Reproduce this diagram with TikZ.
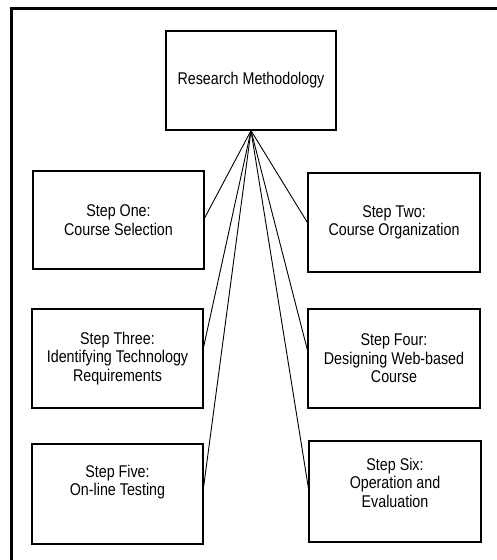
\documentclass[tikz,border=0pt]{standalone}
\usepackage{fontspec}
\setmainfont[FakeStretch=0.84]{Liberation Sans}
\begin{document}
\begin{tikzpicture}[x=1pt,y=-1pt,
  box/.style={draw,line width=1.2pt,rectangle,minimum width=171pt,minimum height=99pt,inner sep=0pt,align=center,font=\fontsize{17}{18.5}\selectfont},
  txt/.style={align=center,inner sep=0pt,font=\fontsize{17}{18.5}\selectfont},
  conn/.style={line width=0.9pt}]
\useasboundingbox (0,0) rectangle (497,560);
\draw[line width=3pt] (11.5,560) -- (11.5,8.5) -- (497,8.5);
\node[box,minimum width=170pt] (top) at (251,80.5) {Research Methodology};
\node[box,minimum height=98pt] (s1) at (118.5,220) {Step One:\\Course Selection};
\node[box,minimum width=172pt] (s2) at (394,222.5) {Step Two:\\Course Organization};
\node[box] (s3) at (117.5,358.5) {Step Three:\\Identifying Technology\\Requirements};
\node[box,minimum width=172pt] (s4) at (394,358.5) {Step Four:\\Designing Web-based\\Course};
\node[box,minimum height=100pt] (s5) at (117.5,494) {};
\node[txt] (s5t) at (117.5,482) {Step Five:\\On-line Testing};
\node[box,minimum width=172pt,minimum height=101pt] (s6) at (395,491.5) {};
\node[txt] (s6t) at (395,482.5) {Step Six:\\Operation and\\Evaluation};
\draw[conn] (top.south) -- ([yshift=2pt]s1.east);
\draw[conn] (top.south) -- (s2.west);
\draw[conn] (top.south) -- ([yshift=11.5pt]s3.east);
\draw[conn] (top.south) -- ([yshift=8.5pt]s4.west);
\draw[conn] (top.south) -- ([yshift=7pt]s5.east);
\draw[conn] (top.south) -- ([yshift=3.5pt]s6.west);
\end{tikzpicture}
\end{document}
